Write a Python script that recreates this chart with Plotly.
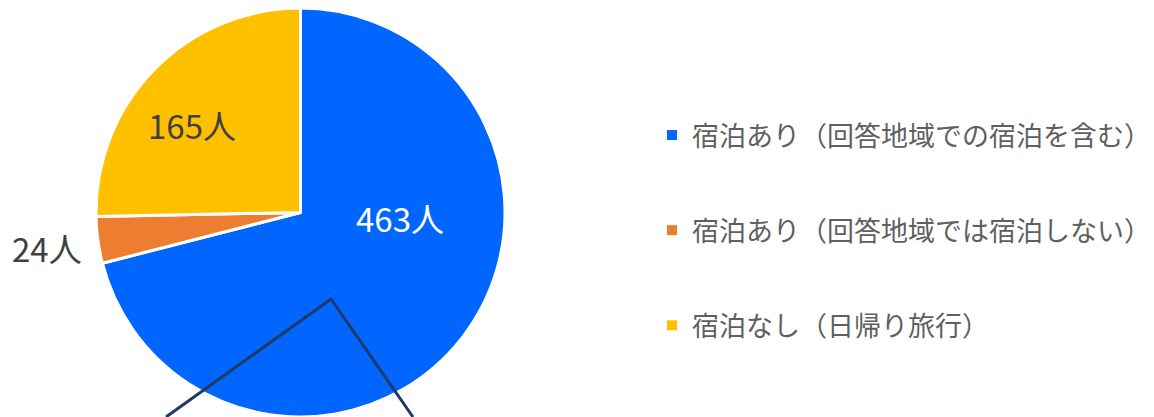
import plotly.graph_objects as go

categories = ["宿泊あり（回答地域での宿泊を含む）", "宿泊あり（回答地域では宿泊しない）", "宿泊なし（日帰り旅行）"]
values = [463, 24, 165]
unit = "人"
colors = ["#0066FF", "#ED7D31", "#FFC000"]
label_colors = ["#FFFFFF", "#404040", "#404040"]

W, H = 1154, 417
FONT = "Noto Sans CJK JP"

fig = go.Figure()
fig.add_trace(go.Pie(
    labels=categories, values=values, sort=False, direction="clockwise", rotation=0,
    marker=dict(colors=colors, line=dict(color="white", width=3)),
    textinfo="none", hoverinfo="label+value", showlegend=False,
    domain=dict(x=[96 / W, 505 / W], y=[0, 409 / H]),
))

# legend entries
for cat, col in zip(categories, colors):
    fig.add_trace(go.Scatter(x=[None], y=[None], mode="markers", name=cat, legendgroup=cat,
                             marker=dict(symbol="square", size=10, color=col),
                             xaxis="x", yaxis="y"))

# data labels (text from values)
label_pos = [(400, 218), (47, 248), (192, 125)]
annotations = []
for v, (px, py), c in zip(values, label_pos, label_colors):
    annotations.append(dict(text=f"{v}{unit}", x=px / W, y=1 - py / H, xref="paper", yref="paper",
                            xanchor="center", yanchor="middle", showarrow=False,
                            font=dict(family=FONT, size=33, color=c)))

# callout lines overlay
pts = [(166, 417), (331, 299), (413, 417)]
path = "M " + " L ".join(f"{x / W},{1 - y / H}" for x, y in pts)
shapes = [dict(type="path", xref="paper", yref="paper", path=path,
               line=dict(color="#203864", width=3))]

fig.update_layout(
    width=W, height=H, margin=dict(l=0, r=0, t=0, b=0, autoexpand=False),
    paper_bgcolor="white", plot_bgcolor="white",
    xaxis=dict(visible=False, domain=[0.99, 1]), yaxis=dict(visible=False, domain=[0.99, 1]),
    font=dict(family=FONT, color="#595959"),
    legend=dict(x=652 / W, y=1 - 111 / H, xanchor="left", yanchor="top",
                font=dict(family=FONT, size=27, color="#5f5f5f"),
                tracegroupgap=57, bgcolor="rgba(0,0,0,0)"),
    annotations=annotations, shapes=shapes,
)

fig.write_html("out.html")
